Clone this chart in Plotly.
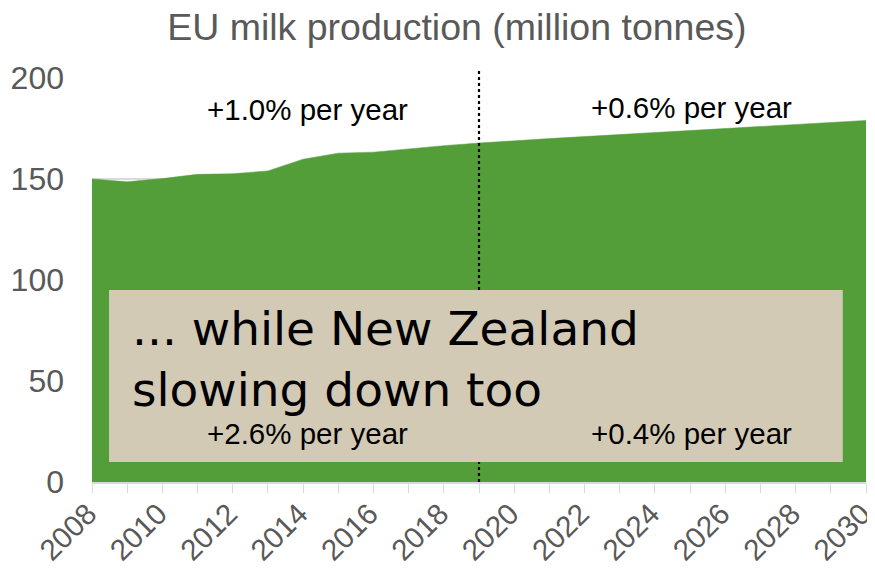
import plotly.graph_objects as go

years = list(range(2008, 2031))
production = [150.0, 148.6, 150.2, 152.3, 152.6, 154.0, 159.8, 162.8, 163.3, 165.0, 166.5, 167.8,
              169.0, 170.0, 171.0, 172.0, 173.0, 174.0, 175.0, 176.0, 177.0, 178.0, 179.0]
split_year = 2019
title_text = "EU milk production (million tonnes)"
eu_growth = ["+1.0% per year", "+0.6% per year"]
nz_growth = ["+2.6% per year", "+0.4% per year"]
box_text = "... while New Zealand<br>slowing down too"

GREEN = "#549E3A"
GREY = "#595959"
BEIGE = "#D3CAB6"

fig = go.Figure()
fig.add_trace(go.Scatter(x=years, y=production, mode="lines", fill="tozeroy",
                         fillcolor=GREEN, line=dict(color=GREEN, width=0.5),
                         hoverinfo="x+y", showlegend=False))

fig.add_shape(type="line", xref="x", yref="paper", x0=split_year, x1=split_year,
              y0=0, y1=1.02, line=dict(color="black", width=2.2, dash="dot"))

fig.add_shape(type="rect", xref="paper", yref="paper", x0=0.022, x1=0.970,
              y0=0.0495, y1=0.475, fillcolor=BEIGE, line=dict(width=0), layer="above")

fig.add_annotation(text=box_text, xref="paper", yref="paper", x=0.049, y=0.305,
                   xanchor="left", yanchor="middle", align="left", showarrow=False,
                   font=dict(family="DejaVu Sans", size=47, color="black"))

lab_font = dict(family="Liberation Sans, Arial", size=29.5, color="black")
for txt, xp, yp in [(eu_growth[0], 0.278, 0.921), (eu_growth[1], 0.774, 0.928),
                    (nz_growth[0], 0.278, 0.121), (nz_growth[1], 0.774, 0.121)]:
    fig.add_annotation(text=txt, xref="paper", yref="paper", x=xp, y=yp,
                       xanchor="center", yanchor="middle", showarrow=False, font=lab_font)

fig.update_layout(
    width=875, height=575,
    margin=dict(l=84, r=17, t=70, b=101),
    paper_bgcolor="white", plot_bgcolor="white",
    title=dict(text=title_text, x=0.513, xanchor="center", y=0.968, yanchor="middle",
               font=dict(family="Liberation Sans, Arial", size=37.5, color=GREY)),
    font=dict(family="Liberation Sans, Arial", color=GREY),
)
fig.update_xaxes(range=[2008, 2030], tickmode="linear", tick0=2008, dtick=2,
                 tickangle=-45, tickfont=dict(size=29.5, color=GREY),
                 ticks="outside", ticklen=9, tickcolor="#D9D9D9",
                 minor=dict(dtick=1, ticks="outside", ticklen=9, tickcolor="#D9D9D9"),
                 showline=True, linecolor="#D9D9D9", linewidth=1.5,
                 showgrid=False, zeroline=False, automargin=False,
                 ticklabeloverflow="allow", ticklabelstandoff=-8, ticklabelshift=-4)
fig.update_yaxes(range=[0, 200], tickmode="linear", tick0=0, dtick=50,
                 tickfont=dict(size=32, color=GREY), ticks="", ticklabelstandoff=27,
                 showgrid=True, gridcolor="#D9D9D9", gridwidth=1.5,
                 showline=False, zeroline=False, automargin=False)

fig.write_html("out.html")
